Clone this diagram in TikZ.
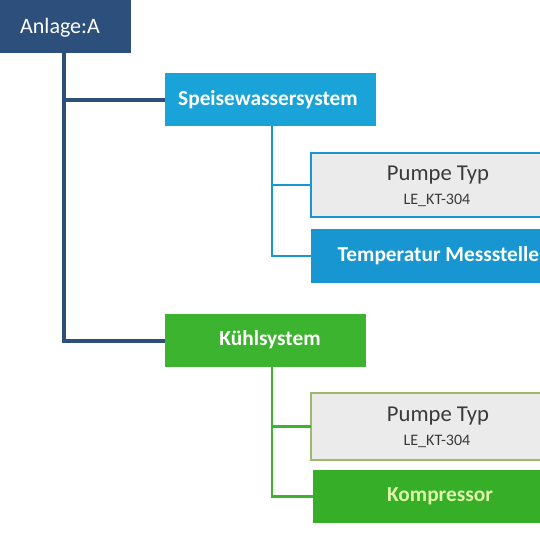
\documentclass[tikz,border=0pt]{standalone}
\usepackage{fontspec}
\setmainfont{Carlito}
\definecolor{dblue}{HTML}{2C4F7C}
\definecolor{cyanb}{HTML}{1AA3D8}
\definecolor{tblue}{HTML}{1796D2}
\definecolor{gr}{HTML}{3DB42F}
\definecolor{grk}{HTML}{36AE28}
\definecolor{grey}{HTML}{EBEBEB}
\definecolor{txtg}{HTML}{3A3A3A}
\definecolor{lgreen}{HTML}{DDF6A8}
\definecolor{olive}{HTML}{9DB86A}
\tikzset{
  box/.style={anchor=north west, inner sep=0pt, outer sep=0pt},
  lbl/.style={font=\bfseries\fontsize{16}{18}\selectfont, text=white},
}
\begin{document}
\begin{tikzpicture}[x=0.75pt,y=-0.75pt]
\useasboundingbox (0,0) rectangle (540,540);
\clip (0,0) rectangle (540,540);
\fill[white] (0,0) rectangle (540,540);
% nodes
\node[box, fill=dblue, minimum width=131*0.75pt, minimum height=53*0.75pt] (A) at (0,0) {};
\node[lbl, font=\fontsize{16.5}{18}\selectfont] at (60,28) {Anlage:A};
\node[box, fill=cyanb, minimum width=211*0.75pt, minimum height=53*0.75pt] (S) at (165,73) {};
\node[lbl] at (268,100) {Speisewassersystem};
\node[box, fill=grey, draw=tblue, line width=1.2pt, minimum width=260*0.75pt, minimum height=64*0.75pt] (P1) at (311,153) {};
\node[font=\fontsize{17}{18}\selectfont, text=txtg] at (438,175) {Pumpe Typ};
\node[font=\fontsize{12}{13}\selectfont, text=txtg] at (437,200) {LE\_KT-304};
\node[box, fill=tblue, minimum width=260*0.75pt, minimum height=54*0.75pt] (T) at (311,229) {};
\node[lbl, anchor=west] at (333,256) {Temperatur Messstelle};
\node[box, fill=gr, minimum width=201*0.75pt, minimum height=53*0.75pt] (K) at (165,314) {};
\node[lbl] at (270,340) {Kühlsystem};
\node[box, fill=grey, draw=olive, line width=1.2pt, minimum width=260*0.75pt, minimum height=67*0.75pt] (P2) at (311,393) {};
\node[font=\fontsize{17}{18}\selectfont, text=txtg] at (438,416) {Pumpe Typ};
\node[font=\fontsize{12}{13}\selectfont, text=txtg] at (437,441) {LE\_KT-304};
\node[box, fill=grk, minimum width=260*0.75pt, minimum height=53*0.75pt] (C) at (313,470) {};
\node[lbl, text=lgreen] at (440,496) {Kompressor};
% connectors
\draw[dblue, line width=3pt] ([xshift=-1.5*0.75pt]A.south) |- (S.west);
\draw[dblue, line width=3pt] ([xshift=-1.5*0.75pt]A.south) |- (K.west);
\draw[tblue, line width=2.2pt] ([xshift=1.5*0.75pt]S.south) |- (P1.west);
\draw[tblue, line width=2.2pt] ([xshift=1.5*0.75pt]S.south) |- (T.west);
\draw[gr, line width=2.2pt] ([xshift=6.5*0.75pt]K.south) |- (P2.west);
\draw[gr, line width=2.2pt] ([xshift=6.5*0.75pt]K.south) |- (C.west);
\end{tikzpicture}
\end{document}
